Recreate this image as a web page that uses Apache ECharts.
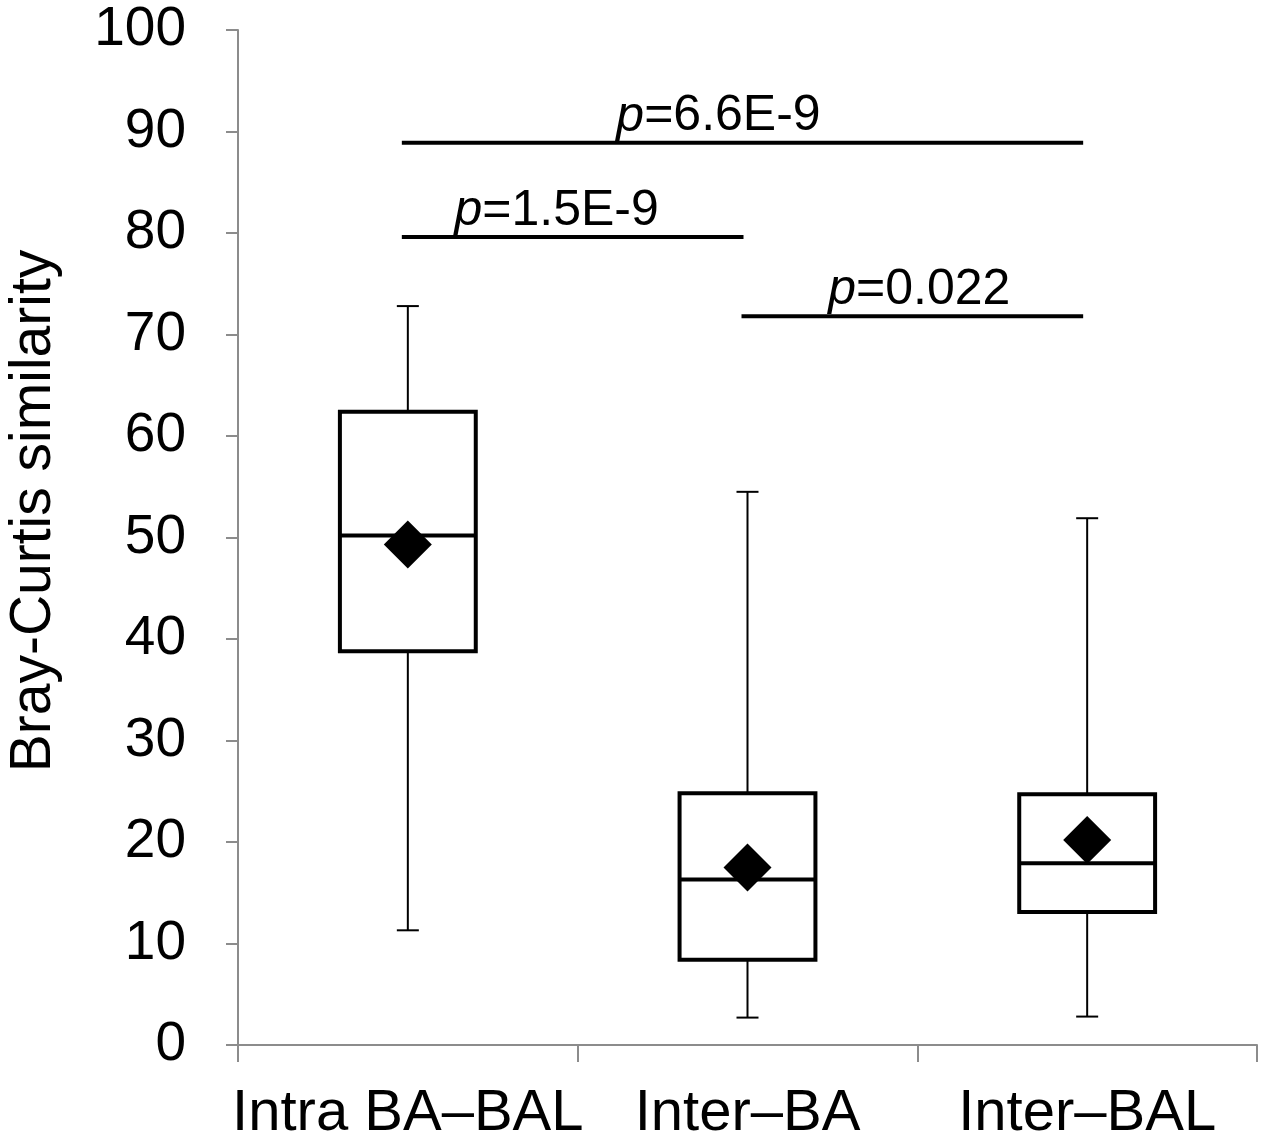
<!DOCTYPE html>
<html style="height:100%;">
<head>
    <meta charset="utf-8">
    <title>Bray-Curtis similarity</title>
    <script src="https://cdn.jsdelivr.net/npm/echarts@6/dist/echarts.min.js"></script>
</head>
<body style="height: 100%; margin: 0;">
    <div id="main" style="width: 1267px; height: 1144px;"></div>
    <script type="text/javascript">
    // groups on the x axis
    var categories = ['Intra BA\u2013BAL', 'Inter\u2013BA', 'Inter\u2013BAL'];
    // box plot statistics
    var whiskerLow  = [11.3, 2.7, 2.8];
    var q1          = [38.8, 8.4, 13.1];
    var median      = [50.2, 16.3, 17.9];
    var q3          = [62.4, 24.8, 24.7];
    var whiskerHigh = [72.8, 54.5, 51.9];
    var means       = [49.3, 17.5, 20.2];
    // significance brackets: from group, to group, height, p value
    var sigFrom  = [0, 0, 1];
    var sigTo    = [2, 1, 2];
    var sigY     = [88.9, 79.6, 71.8];
    var sigP     = ['6.6E-9', '1.5E-9', '0.022'];
    var yTicks   = [0, 10, 20, 30, 40, 50, 60, 70, 80, 90, 100];

    var FONT = '"Liberation Sans", Arial, sans-serif';
    var labelShift = [-24, -16, 7];

    var boxData = categories.map(function (c, i) {
        return [i, whiskerLow[i], q1[i], median[i], q3[i], whiskerHigh[i]];
    });
    var sigData = sigP.map(function (p, i) {
        return [sigFrom[i], sigTo[i], sigY[i], i];
    });

    var myChart = echarts.init(document.getElementById('main'));
    myChart.setOption({
        animation: false,
        backgroundColor: '#fff',
        grid: { left: 238, right: 10, top: 30, bottom: 99 },
        graphic: [{
            type: 'text',
            x: 34,
            y: 511,
            rotation: Math.PI / 2,
            style: {
                text: 'Bray-Curtis similarity',
                align: 'center',
                verticalAlign: 'middle',
                fill: '#000',
                fontSize: 57,
                fontFamily: FONT
            }
        }],
        xAxis: {
            type: 'category',
            data: categories,
            boundaryGap: true,
            axisLine: { lineStyle: { color: '#8c8c8c', width: 2 } },
            axisTick: { show: true, interval: 0, length: 17, lineStyle: { color: '#8c8c8c', width: 2 } },
            axisLabel: { interval: 0, color: '#000', fontSize: 58, fontFamily: FONT, margin: 40 },
            splitLine: { show: false }
        },
        yAxis: {
            type: 'value',
            min: yTicks[0],
            max: yTicks[yTicks.length - 1],
            interval: 10,
            axisLine: { show: true, lineStyle: { color: '#8c8c8c', width: 2 } },
            axisTick: { show: true, length: 12, lineStyle: { color: '#8c8c8c', width: 2 } },
            axisLabel: { color: '#000', fontSize: 55, fontFamily: FONT, margin: 52 },
            splitLine: { show: false }
        },
        series: [{
            type: 'custom',
            data: boxData,
            renderItem: function (params, api) {
                var x = api.coord([api.value(0), 0])[0];
                var yLow = api.coord([api.value(0), api.value(1)])[1];
                var yQ1 = api.coord([api.value(0), api.value(2)])[1];
                var yMed = api.coord([api.value(0), api.value(3)])[1];
                var yQ3 = api.coord([api.value(0), api.value(4)])[1];
                var yHigh = api.coord([api.value(0), api.value(5)])[1];
                var w = api.size([1, 0])[0] * 0.4;
                var cap = 11;
                var thin = { stroke: '#000', lineWidth: 2 };
                var thick = { stroke: '#000', lineWidth: 4 };
                return {
                    type: 'group',
                    children: [
                        { type: 'line', shape: { x1: x, y1: yHigh, x2: x, y2: yQ3 }, style: thin },
                        { type: 'line', shape: { x1: x, y1: yQ1, x2: x, y2: yLow }, style: thin },
                        { type: 'line', shape: { x1: x - cap, y1: yHigh, x2: x + cap, y2: yHigh }, style: thin },
                        { type: 'line', shape: { x1: x - cap, y1: yLow, x2: x + cap, y2: yLow }, style: thin },
                        { type: 'rect', shape: { x: x - w / 2, y: yQ3, width: w, height: yQ1 - yQ3 },
                          style: { fill: '#fff', stroke: '#000', lineWidth: 4 } },
                        { type: 'line', shape: { x1: x - w / 2, y1: yMed, x2: x + w / 2, y2: yMed }, style: thick }
                    ]
                };
            },
            z: 2
        }, {
            type: 'scatter',
            data: means,
            symbol: 'diamond',
            symbolSize: 48,
            itemStyle: { color: '#000', opacity: 1 },
            z: 3
        }, {
            type: 'custom',
            data: sigData,
            renderItem: function (params, api) {
                var a = api.coord([api.value(0), api.value(2)]);
                var b = api.coord([api.value(1), api.value(2)]);
                var k = api.value(3);
                var x1 = a[0] - 6, x2 = b[0] - 4;
                return {
                    type: 'group',
                    children: [
                        { type: 'line', shape: { x1: x1, y1: a[1], x2: x2, y2: a[1] },
                          style: { stroke: '#000', lineWidth: 4 } },
                        { type: 'text',
                          style: {
                              text: '{i|p}=' + sigP[k],
                              x: (x1 + x2) / 2 + labelShift[k],
                              y: a[1] - 1,
                              align: 'center',
                              verticalAlign: 'bottom',
                              fill: '#000',
                              fontSize: 50,
                              fontFamily: FONT,
                              rich: { i: { fontStyle: 'italic', fontSize: 50, fontFamily: FONT, fill: '#000' } }
                          } }
                    ]
                };
            },
            z: 4
        }]
    });
    </script>
</body>
</html>
